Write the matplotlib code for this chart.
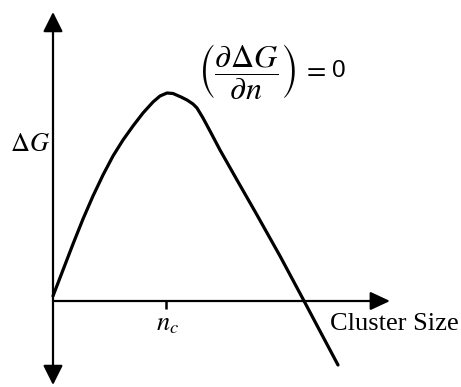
import matplotlib
matplotlib.use("Agg")
import matplotlib.pyplot as plt

plt.rcParams["mathtext.fontset"] = "stix"
plt.rcParams["font.family"] = ["Liberation Serif", "DejaVu Serif"]

# Free energy of cluster formation vs. cluster size (arbitrary units)
cluster_size = [0, 10, 20, 30, 40, 50, 60, 70, 80, 90, 100, 107, 114, 120,
                128, 134, 140, 144, 150, 157, 167, 184, 204, 227, 250, 268,
                285]
delta_g = [5, 31, 57, 82, 105, 126, 145, 161, 175, 188, 199, 205, 208, 207.5,
           204, 201, 197, 193, 183, 170, 151, 121, 86, 45, 2, -32, -64]

n_c = 113            # critical cluster size
x_axis_end = 337
y_axis_top = 289
y_axis_bottom = -84

fig = plt.figure(figsize=(4.61, 3.87), dpi=100)
ax = fig.add_axes([0, 0, 1, 1])
ax.set_xlim(-53, 408)
ax.set_ylim(-86, 301)
ax.axis("off")

arrow_kw = dict(mutation_scale=20, color="black", lw=1.6,
                shrinkA=0, shrinkB=0)

# Horizontal axis
ax.annotate("", xy=(x_axis_end, 0), xytext=(0, 0),
            arrowprops=dict(arrowstyle="-|>,head_length=0.6,head_width=0.28",
                            **arrow_kw))
# Vertical axis (double headed)
ax.annotate("", xy=(0, y_axis_top), xytext=(0, y_axis_bottom),
            arrowprops=dict(arrowstyle="<|-|>,head_length=0.6,head_width=0.3",
                            **arrow_kw))

# Critical size tick
ax.plot([n_c, n_c], [0, -8], color="black", lw=1.8, solid_capstyle="butt")

# Free energy curve
ax.plot(cluster_size, delta_g, color="black", lw=2.3,
        solid_joinstyle="round", solid_capstyle="round")

# Labels
ax.text(-3, 156, r"$\Delta G$", fontsize=19, ha="right", va="center")
ax.text(115, -24, r"$n_c$", fontsize=19, ha="center", va="center")
ax.text(277, -23, "Cluster Size", fontsize=19, ha="left", va="center")

# Stationarity condition at the maximum
ax.text(194, 230,
        r"$\left(\dfrac{\partial\Delta G}{\partial n}\right)$",
        fontsize=23, ha="center", va="center")
ax.text(261, 231, r"$=$", fontsize=20, ha="center", va="center")
ax.text(286, 224, "0", fontsize=17.5, ha="center", va="baseline",
        family=["Liberation Sans", "DejaVu Sans"])

fig.savefig("out.png", dpi=100, facecolor="white")
